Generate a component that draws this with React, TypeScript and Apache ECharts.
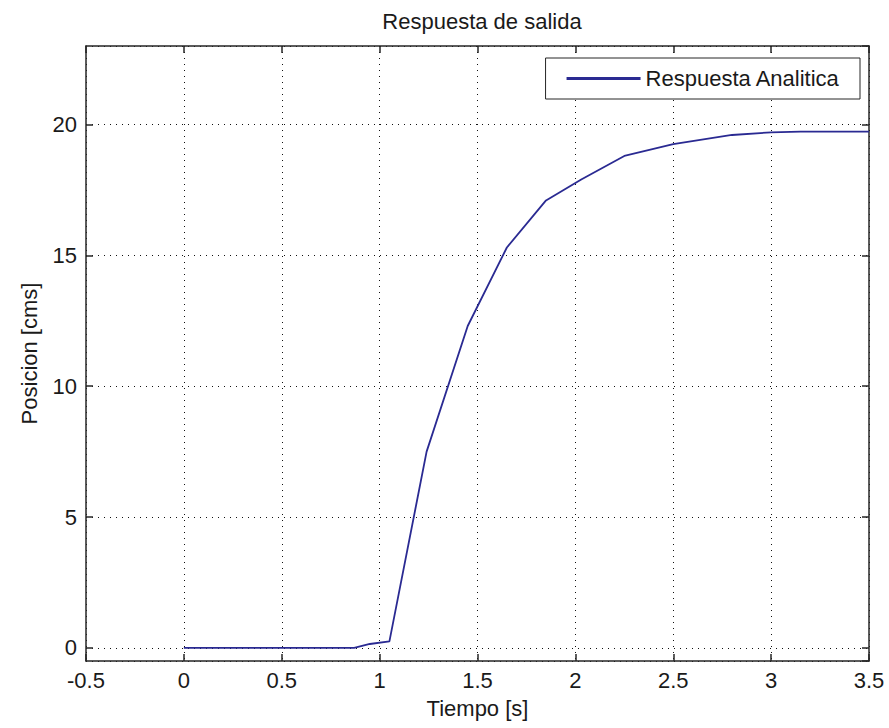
import React, { useEffect, useRef } from "react";
import * as echarts from "echarts";

const timeValues = [0, 0.5, 0.87, 0.95, 1.05, 1.24, 1.45, 1.65, 1.85, 2.03, 2.25, 2.5, 2.8, 3.0, 3.15, 3.5];
const positionValues = [0, 0, 0, 0.15, 0.25, 7.5, 12.3, 15.3, 17.1, 17.9, 18.8, 19.25, 19.6, 19.7, 19.73, 19.73];
const seriesName = "Respuesta Analitica";
const chartTitle = "Respuesta de salida";
const xAxisName = "Tiempo [s]";
const yAxisName = "Posicion [cms]";

const FONT = "'Liberation Sans', Arial, Helvetica, sans-serif";
const TXT = "#1a1a1a";
const FRAME = "#262626";
const LINE = "#2a2a92";

export default function App() {
  const ref = useRef<HTMLDivElement>(null);
  useEffect(() => {
    if (!ref.current) return;
    const chart = echarts.init(ref.current, null, { renderer: "svg" });
    const data = timeValues.map((t, i) => [t, positionValues[i]]);
    const grid = { left: 86, right: 20, top: 46, bottom: 67 };
    const gridLine = { show: true, lineStyle: { color: "#111", width: 1, type: [1, 5] as any } };
    chart.setOption({
      animation: false,
      backgroundColor: "#ffffff",
      textStyle: { fontFamily: FONT },
      title: {
        text: chartTitle,
        left: 477,
        top: 5,
        textAlign: "center",
        textStyle: { fontFamily: FONT, fontSize: 22, fontWeight: "normal", color: TXT },
      },
      legend: {
        data: [{ name: seriesName, icon: "rect" }],
        right: 29,
        top: 58,
        orient: "vertical",
        padding: [8, 20, 8, 21],
        itemWidth: 74,
        itemHeight: 3,
        backgroundColor: "#ffffff",
        borderColor: FRAME,
        borderWidth: 1,
        borderRadius: 0,
        itemStyle: { color: LINE, borderWidth: 0 },
        textStyle: { fontFamily: FONT, fontSize: 22, color: TXT, lineHeight: 25 },
      },
      grid,
      xAxis: [
        {
          type: "value",
          min: -0.5,
          max: 3.5,
          interval: 0.5,
          position: "bottom",
          name: xAxisName,
          nameLocation: "middle",
          nameGap: 36,
          nameTextStyle: { fontFamily: FONT, fontSize: 22, color: TXT },
          axisLine: { show: true, onZero: false, lineStyle: { color: FRAME, width: 1.5 } },
          axisTick: { show: true, inside: true, length: 7, lineStyle: { color: FRAME, width: 1.5 } },
          axisLabel: { show: true, margin: 8, fontFamily: FONT, fontSize: 22, color: TXT },
          splitLine: gridLine,
        },
        {
          type: "value",
          min: -0.5,
          max: 3.5,
          interval: 0.5,
          position: "top",
          axisLine: { show: true, onZero: false, lineStyle: { color: FRAME, width: 1.5 } },
          axisTick: { show: true, inside: true, length: 7, lineStyle: { color: FRAME, width: 1.5 } },
          axisLabel: { show: false },
          splitLine: { show: false },
        },
      ],
      yAxis: [
        {
          type: "value",
          min: -0.5,
          max: 23,
          splitNumber: 5,
          position: "left",
          name: yAxisName,
          nameLocation: "middle",
          nameGap: 46,
          nameTextStyle: { fontFamily: FONT, fontSize: 22, color: TXT },
          axisLine: { show: true, onZero: false, lineStyle: { color: FRAME, width: 1.5 } },
          axisTick: { show: true, inside: true, length: 7, lineStyle: { color: FRAME, width: 1.5 } },
          axisLabel: { show: true, margin: 9, fontFamily: FONT, fontSize: 22, color: TXT, showMinLabel: false, showMaxLabel: false },
          splitLine: gridLine,
        },
        {
          type: "value",
          min: -0.5,
          max: 23,
          splitNumber: 5,
          position: "right",
          axisLine: { show: true, onZero: false, lineStyle: { color: FRAME, width: 1.5 } },
          axisTick: { show: true, inside: true, length: 7, lineStyle: { color: FRAME, width: 1.5 } },
          axisLabel: { show: false },
          splitLine: { show: false },
        },
      ],
      series: [
        {
          name: seriesName,
          type: "line",
          xAxisIndex: 0,
          yAxisIndex: 0,
          data,
          symbol: "none",
          smooth: false,
          lineStyle: { color: LINE, width: 1.8 },
          itemStyle: { color: LINE },
        },
      ],
    });
    return () => chart.dispose();
  }, []);
  return <div ref={ref} style={{ position: "absolute", left: 0, top: 0, width: 889, height: 728 }} />;
}
